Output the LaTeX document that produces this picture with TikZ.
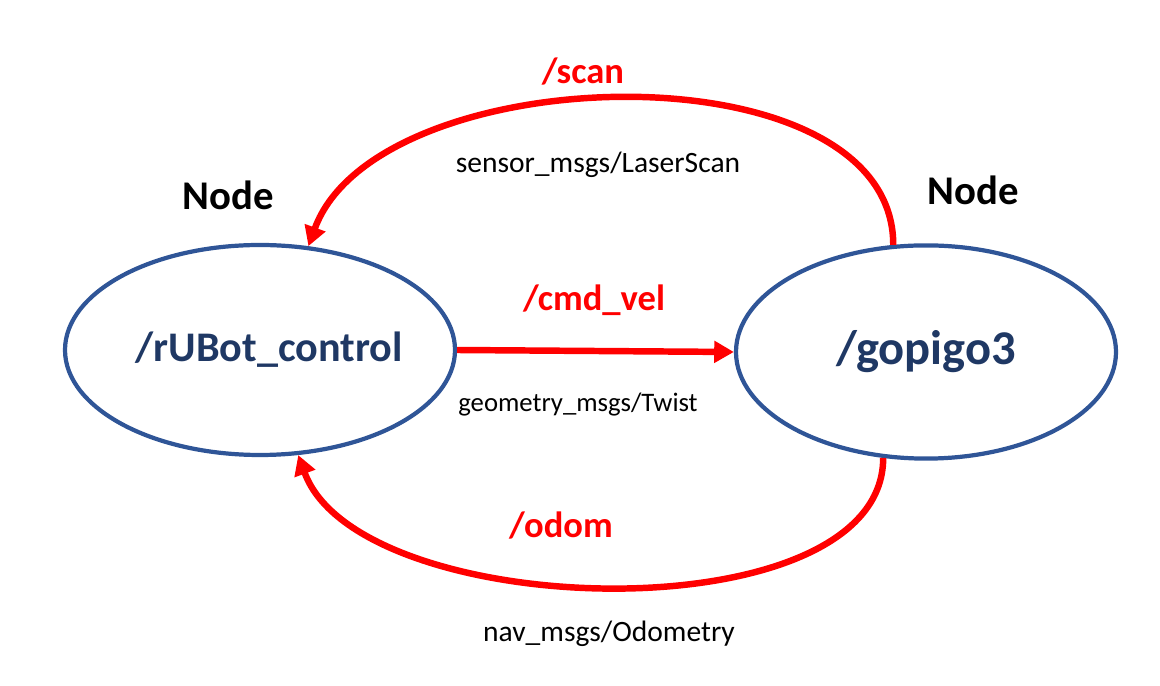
\documentclass[tikz,border=0pt]{standalone}
\usepackage{fontspec}
\setmainfont{Carlito}
\usepackage{tikz}
\usetikzlibrary{positioning, arrows.meta, shapes.geometric}
\definecolor{rosblue}{RGB}{47, 85, 151}
\definecolor{rosnavy}{RGB}{31, 56, 100}
\definecolor{rosred}{RGB}{255, 0, 0}

\begin{document}
\begin{tikzpicture}[
    % --- stili per nodi e topic ---
    rosnode/.style={ellipse, draw=rosblue, line width=3pt, inner sep=0, text=rosnavy},
    topic/.style={draw=rosred, line width=4.6pt, -{Triangle[length=14pt, width=15pt]}},
    topicname/.style={text=rosred, font=\bfseries\fontsize{26}{31}\selectfont},
    msgtype/.style={font=\fontsize{21}{25}\selectfont},
    nodetag/.style={font=\bfseries\fontsize{29}{35}\selectfont}
]

% 1. Riquadro (dimensioni dell'immagine)
\useasboundingbox (0, 0) rectangle (29, 17.15);

% 2. I due nodi ROS
\node (control) [rosnode, minimum width=9.75cm, minimum height=5.25cm] at (6.5, 8.4) {};
\node (control_name) [text=rosnavy, font=\bfseries\fontsize{30}{36}\selectfont]
    at ([xshift=0.23cm]control.center) {/rUBot\_control};
\node (gopigo) [rosnode, minimum width=9.5cm, minimum height=5.33cm,
    font=\bfseries\fontsize{34.5}{41}\selectfont] at (23.15, 8.35) {/gopigo3};

% 3. Etichette "Node"
\node (tag_control) [nodetag] at (5.7, 12.275) {Node};
\node (tag_gopigo) [nodetag] at (24.325, 12.4) {Node};

% 4. Topic /cmd_vel
\draw[topic] (control.east) -- (gopigo.west);
\node (cmd_vel) [topicname] at (14.85, 9.65) {/cmd\_vel};
\node (twist) [msgtype, font=\fontsize{19}{23}\selectfont] at (14.45, 7.025) {geometry\_msgs/Twist};

% 5. Topic /scan
\draw[topic] (gopigo.107) to[out=90, in=70, looseness=0.88] (control.65);
\node (scan) [topicname] at (14.575, 15.35) {/scan};
\node (laserscan) [msgtype] at (14.95, 13.025) {sensor\_msgs/LaserScan};

% 6. Topic /odom
\draw[topic] (gopigo.248) to[out=270, in=290, looseness=0.78] (control.290);
\node (odom) [topicname] at (14.025, 4.0) {/odom};
\node (odometry) [msgtype] at (15.225, 1.3) {nav\_msgs/Odometry};
\end{tikzpicture}
\end{document}
